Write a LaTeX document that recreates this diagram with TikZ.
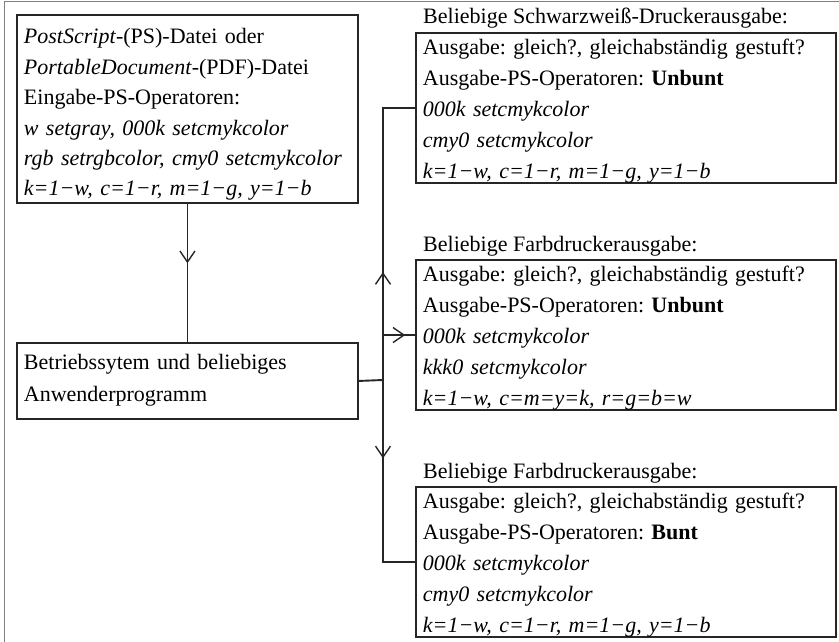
\documentclass[tikz,border=0pt]{standalone}
\usepackage{fontspec}
\setmainfont{Liberation Serif}
\usetikzlibrary{arrows.meta,decorations.markings}
\frenchspacing

\begin{document}
\begin{tikzpicture}[x=1pt,y=-1pt]
\tikzstyle{box}=[draw=black!85,line width=1.9pt,anchor=north west,align=left,inner xsep=7pt,inner ysep=0pt,font=\fontsize{22}{30.8}\selectfont];
\tikzstyle{srcbox}=[box,text width=327pt,font=\fontsize{22}{30.4}\selectfont];
\tikzstyle{outbox}=[box,text width=406pt];
\tikzstyle{heading}=[anchor=base west,inner sep=0pt,xshift=8pt,yshift=8pt,font=\fontsize{22}{26}\selectfont];
\tikzstyle{flow}=[draw=black!85,line width=1.9pt];
\tikzset{midarrow/.style={postaction={decorate},decoration={markings,mark=at position #1 with {\arrow{Straight Barb[length=11pt,width=15pt,line width=1.4pt]}}}}}
\useasboundingbox (0,0) rectangle (839,642);
\draw [draw=black!50,line width=1.2pt] (4.5,642) -- (4.5,1.5) -- (839,1.5);

\node [srcbox] (psfile) at (16,14) {\rule{0pt}{29pt}\textit{PostScript}-(PS)-Datei oder\\
  \textit{PortableDocument}-(PDF)-Datei\\
  Eingabe-PS-Operatoren:\\
  \textit{w setgray, 000k setcmykcolor}\\
  \textit{rgb setrgbcolor, cmy0 setcmykcolor}\\
  \textit{k=1−w, c=1−r, m=1−g, y=1−b}\rule[-7pt]{0pt}{7pt}};
\node [srcbox,font=\fontsize{22}{32}\selectfont] (app) at (16,342) {\rule{0pt}{27pt}Betriebssytem und beliebiges\\
  Anwenderprogramm\rule[-17pt]{0pt}{17pt}};

\node [outbox] (bw) at (415,32) {\rule{0pt}{22pt}Ausgabe: gleich?, gleichabständig gestuft?\\
  Ausgabe-PS-Operatoren: \textbf{Unbunt}\\
  \textit{000k setcmykcolor}\\
  \textit{cmy0 setcmykcolor}\\
  \textit{k=1−w, c=1−r, m=1−g, y=1−b}\rule[-5pt]{0pt}{5pt}};
\node [heading] (bwhead) at (bw.north west) {Beliebige Schwarzweiß-Druckerausgabe:};

\node [outbox] (grey) at (415,259) {\rule{0pt}{22pt}Ausgabe: gleich?, gleichabständig gestuft?\\
  Ausgabe-PS-Operatoren: \textbf{Unbunt}\\
  \textit{000k setcmykcolor}\\
  \textit{kkk0 setcmykcolor}\\
  \textit{k=1−w, c=m=y=k, r=g=b=w}\rule[-5pt]{0pt}{5pt}};
\node [heading] (greyhead) at (grey.north west) {Beliebige Farbdruckerausgabe:};

\node [outbox] (color) at (415,486) {\rule{0pt}{22pt}Ausgabe: gleich?, gleichabständig gestuft?\\
  Ausgabe-PS-Operatoren: \textbf{Bunt}\\
  \textit{000k setcmykcolor}\\
  \textit{cmy0 setcmykcolor}\\
  \textit{k=1−w, c=1−r, m=1−g, y=1−b}\rule[-5pt]{0pt}{5pt}};
\node [heading] (colorhead) at (color.north west) {Beliebige Farbdruckerausgabe:};

\coordinate (split) at (383,380);
\draw [flow,midarrow=0.43] (psfile.south) -- (app.north);
\draw [flow] (app.east) -- (split);
\draw [flow,midarrow=0.355] (split) |- (bw.west);
\draw [flow,midarrow=0.873] (split) |- (grey.west);
\draw [flow,midarrow=0.366] (split) |- (color.west);
\end{tikzpicture}
\end{document}
